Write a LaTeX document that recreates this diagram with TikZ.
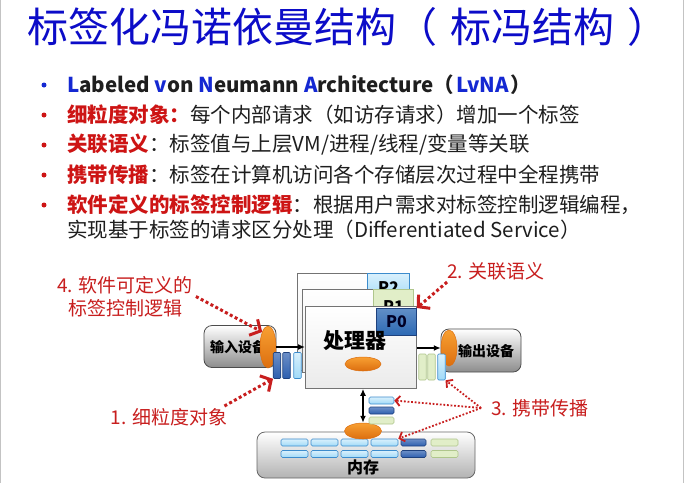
\documentclass[tikz,border=0pt]{standalone}
\usepackage{fontspec}
\setmainfont{Noto Sans CJK SC}
\usetikzlibrary{arrows.meta,positioning,shapes.geometric,calc}

\definecolor{ttlblue}{RGB}{12,12,200}
\definecolor{lvblue}{RGB}{20,40,210}
\definecolor{kred}{RGB}{205,20,20}
\definecolor{txtgray}{RGB}{30,30,30}
\definecolor{arred}{RGB}{200,30,30}
\definecolor{ltblue}{RGB}{160,218,248}
\definecolor{ltblueb}{RGB}{60,140,205}
\definecolor{dkblue}{RGB}{45,95,175}
\definecolor{dkblueb}{RGB}{30,65,125}
\definecolor{ltgreen}{RGB}{225,238,200}
\definecolor{ltgreenb}{RGB}{175,198,140}
\definecolor{orng}{RGB}{248,160,50}
\definecolor{orngd}{RGB}{220,110,15}
\definecolor{pzero}{RGB}{45,105,180}
\definecolor{bordgray}{RGB}{195,195,195}

\begin{document}
\begin{tikzpicture}[x=1pt,y=-1pt]
\tikzstyle{line}=[anchor=west,inner sep=0pt,text=txtgray,font=\fontsize{20.5}{24}\selectfont]
\tikzstyle{bdot}=[circle,inner sep=0pt,minimum size=5pt]
\tikzstyle{cpu}=[draw=black!55,top color=white,bottom color=black!8,line width=0.8pt,anchor=north west,inner sep=0pt]
\tikzstyle{ptag}=[anchor=north east,inner sep=0pt,line width=0.6pt,font=\bfseries\fontsize{16}{18}\selectfont]
\tikzstyle{dev}=[draw=black!70,rounded corners=8pt,top color=white,bottom color=black!45,line width=0.8pt,inner sep=0pt]
\tikzstyle{devlbl}=[inner sep=0pt,font=\bfseries\fontsize{14}{16}\selectfont]
\tikzstyle{tag}=[ellipse,draw=orngd,line width=0.5pt,top color=orng,bottom color=orngd,inner sep=0pt]
\tikzstyle{vbar}=[rounded corners=1pt,line width=0.6pt,inner sep=0pt,minimum width=7.5pt,minimum height=26pt]
\tikzstyle{hbar}=[rounded corners=1.5pt,line width=0.6pt,inner sep=0pt,minimum width=27pt,minimum height=7pt]
\tikzstyle{lt}=[draw=ltblueb,top color=ltblue!40,bottom color=ltblue]
\tikzstyle{dk}=[draw=dkblueb,top color=dkblue!70,bottom color=dkblue]
\tikzstyle{gr}=[draw=ltgreenb,fill=ltgreen]
\tikzstyle{blk}=[line width=1.6pt,-{Latex[length=7pt,width=6pt]}]
\tikzstyle{blk2}=[line width=1.6pt,{Latex[length=7pt,width=6pt]}-{Latex[length=7pt,width=6pt]}]
\tikzstyle{redlbl}=[text=arred,inner sep=0pt,align=center,font=\fontsize{19}{23}\selectfont]
\tikzstyle{bigarr}=[arred,line width=3pt,dash pattern=on 3pt off 2.5pt,-{Straight Barb[length=8pt,width=18pt,line width=3pt]}]
\tikzstyle{smallarr}=[arred,line width=1.8pt,dash pattern=on 1.8pt off 1.8pt,-{Straight Barb[length=4.5pt,width=10pt,line width=1.8pt]}]

\useasboundingbox (0,0) rectangle (684,483);
\fill[white] (0,0) rectangle (684,483);
\draw[bordgray] (0.5,0) -- (0.5,483) (683.5,0) -- (683.5,483);

% title and bullet list
\node[anchor=west,inner sep=0pt,text=ttlblue,font=\fontsize{41}{48}\selectfont] (title) at (27,27) {标签化冯诺依曼结构（\hspace{0.32em}标冯结构\hspace{0.32em}）};

\foreach \y/\c [count=\i] in {85/lvblue,115/kred,145/kred,175/kred,205/kred}
  \node[bdot,fill=\c] (d\i) at (44,\y) {};

\node[line] (b1) at (67,85) {\bfseries\textcolor{lvblue}{L}abeled \textcolor{lvblue}{v}on \textcolor{lvblue}{N}eumann \textcolor{lvblue}{A}rchitecture（\hspace{0.1em}\textcolor{lvblue}{LvNA}\hspace{0.1em}）};
\node[line] (b2) at (67,115) {\textcolor{kred}{\bfseries 细粒度对象：}每个内部请求（如访存请求）增加一个标签};
\node[line] (b3) at (67,145) {\textcolor{kred}{\bfseries 关联语义}：标签值与上层VM/进程/线程/变量等关联};
\node[line] (b4) at (67,175) {\textcolor{kred}{\bfseries 携带传播}：标签在计算机访问各个存储层次过程中全程携带};
\node[line] (b5) at (67,205) {\textcolor{kred}{\bfseries 软件定义的标签控制逻辑}：根据用户需求对标签控制逻辑编程，};
\node[line] (b6) at (67,230) {实现基于标签的请求区分处理（Differentiated Service）};

% processor stack
\node[cpu,minimum width=112pt,minimum height=97pt] (cpu2) at (297,273) {};
\node[ptag,lt,minimum width=42pt,minimum height=28pt] (p2) at (cpu2.north east) {P2};
\node[cpu,minimum width=111pt,minimum height=83pt] (cpu1) at (302,289) {};
\node[ptag,gr,minimum width=40pt,minimum height=34pt] (p1) at (cpu1.north east) {P1};
\node[cpu,minimum width=111pt,minimum height=82pt] (cpu0) at (305,306) {};
\node[ptag,draw=dkblueb,top color=pzero!75,bottom color=pzero,text=black!85!blue,minimum width=40pt,minimum height=27pt] (p0) at ([yshift=-2pt]cpu0.north east) {P0};
\node[inner sep=0pt,font=\bfseries\fontsize{21}{24}\selectfont] (cpulbl) at (355,341) {处理器};
\node[tag,minimum width=36pt,minimum height=14pt] (cputag) at (363,364) {};

% input side
\node[dev,minimum width=72pt,minimum height=42pt] (indev) at (240,346.5) {};
\node[devlbl] (inlbl) at (238,347) {输入设备};
\node[tag,minimum width=16pt,minimum height=42pt] (intag) at (268,347) {};
\node[vbar,dk] (ib1) at (277,365.5) {};
\node[vbar,dk] (ib2) at (286.5,365.5) {};
\node[vbar,lt] (ib3) at (297.5,365.5) {};
\draw[blk] (intag.east) -- (intag.east -| cpu0.west);

% output side
\node[dev,minimum width=80pt,minimum height=43pt] (outdev) at (481,350.5) {};
\node[devlbl] (outlbl) at (486,351) {输出设备};
\node[tag,minimum width=16pt,minimum height=36pt] (outtag) at (449,348) {};
\node[vbar,gr] (ob1) at (422.5,367) {};
\node[vbar,gr] (ob2) at (431.5,367) {};
\node[vbar,lt] (ob3) at (441.5,367) {};
\draw[blk] (cpu0.east |- outtag.west) -- (outtag.west);

% memory
\node[dev,draw=black!60,bottom color=black!30,minimum width=218pt,minimum height=46pt] (mem) at (366,455) {};
\foreach \r/\y in {1/442.5,2/454}{
  \foreach \c in {0,...,3}
    \node[hbar,lt] (m\r\c) at (294.5+30*\c,\y) {};
  \node[hbar,dk,minimum width=25pt] (m\r4) at (413.5,\y) {};
  \node[hbar,gr] (m\r5) at (444.5,\y) {};
}
\node[inner sep=0pt,font=\bfseries\fontsize{16}{18}\selectfont] (memlbl) at (363,467) {内存};
\node[tag,minimum width=37pt,minimum height=16pt] (memtag) at (363,431) {};

\node[hbar,lt,minimum width=25pt] (s1) at (381.5,400.5) {};
\node[hbar,dk,minimum width=25pt] (s2) at (381.5,410.5) {};
\node[hbar,gr,minimum width=25pt] (s3) at (381.5,420.5) {};
\draw[blk2] (cpu0.south -| memtag) -- (memtag.north);

% red notes
\node[redlbl] (lbl4) at (125,296.5) {4. 软件可定义的\\标签控制逻辑};
\node[redlbl] (lbl1) at (169,417) {1. 细粒度对象};
\node[redlbl] (lbl2) at (496,271) {2. 关联语义};
\node[redlbl] (lbl3) at (540,408) {3. 携带传播};

\draw[bigarr] ([xshift=3pt]lbl4.east) -- (intag.north west);
\draw[bigarr] ([xshift=-3pt,yshift=2pt]lbl1.north east) -- (ib1.south west);
\draw[bigarr] ([yshift=-2pt]lbl2.south west) -- (p0.north east);
\coordinate (c3) at ([xshift=-10pt]lbl3.west);
\draw[smallarr] (c3) -- (ob3.south east);
\draw[smallarr] (c3) -- (s1.east);
\draw[smallarr] (c3) -- (m13.north east);
\end{tikzpicture}
\end{document}
